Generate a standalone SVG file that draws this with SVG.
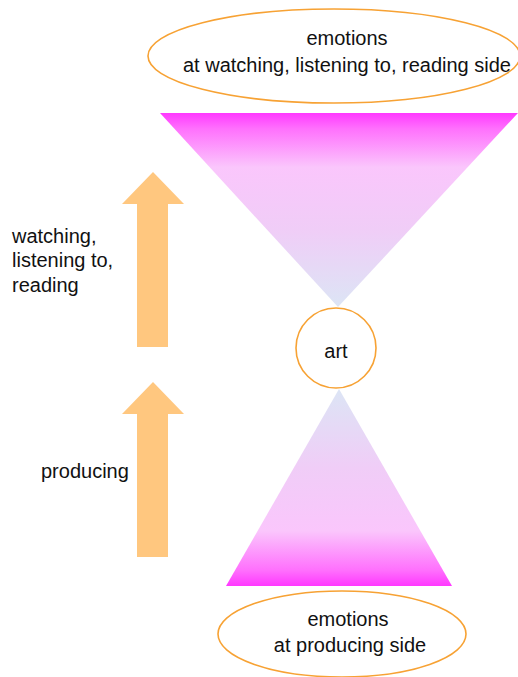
<svg xmlns="http://www.w3.org/2000/svg" width="518" height="677" viewBox="0 0 518 677">
<defs>
<linearGradient id="gTop" x1="0" y1="0" x2="0" y2="1">
<stop offset="0" stop-color="#ff38ff"/>
<stop offset="0.08" stop-color="#ff70fd"/>
<stop offset="0.28" stop-color="#fac6fc"/>
<stop offset="0.6" stop-color="#f0cdf7"/>
<stop offset="1" stop-color="#dce5f5"/>
</linearGradient>
<linearGradient id="gBot" x1="0" y1="1" x2="0" y2="0">
<stop offset="0" stop-color="#ff38ff"/>
<stop offset="0.08" stop-color="#ff70fd"/>
<stop offset="0.28" stop-color="#fac6fc"/>
<stop offset="0.6" stop-color="#f0cdf7"/>
<stop offset="1" stop-color="#dce5f5"/>
</linearGradient>
</defs>
<style>
text { font-family: "Liberation Sans", Arial, sans-serif; font-size: 20px; fill: #111; }
.c { text-anchor: middle; }
.ell { fill: #fff; stroke: #f7a234; stroke-width: 1.6; }
.arrow { fill: #ffc77f; }
</style>
<rect width="518" height="677" fill="#fff"/>
<g id="connectors">
<polygon id="arrow-up-watching" class="arrow" points="153,172 184,204 168,204 168,347 137,347 137,204 122,204"/>
<polygon id="arrow-up-producing" class="arrow" points="153,382 184,414 168,414 168,557 137,557 137,414 122,414"/>
</g>
<g id="funnel-top">
<polygon points="160,113 518,113 338,307" fill="url(#gTop)"/>
</g>
<g id="funnel-bottom">
<polygon points="339,389 452,586 226,586" fill="url(#gBot)"/>
</g>
<g id="emotions-top">
<ellipse class="ell" cx="334" cy="56" rx="186" ry="47"/>
<text class="c" x="347" y="45">emotions</text>
<text class="c" x="347" y="72">at watching, listening to, reading side</text>
</g>
<g id="art">
<circle class="ell" cx="336" cy="348" r="40"/>
<text class="c" x="336" y="358">art</text>
</g>
<g id="emotions-bottom">
<ellipse class="ell" cx="342" cy="634" rx="124" ry="43"/>
<text class="c" x="348" y="626">emotions</text>
<text class="c" x="350" y="652">at producing side</text>
</g>
<g id="label-watching">
<text x="12" y="243">watching,</text>
<text x="12" y="267">listening to,</text>
<text x="12" y="292">reading</text>
</g>
<g id="label-producing">
<text x="41" y="478">producing</text>
</g>
</svg>
